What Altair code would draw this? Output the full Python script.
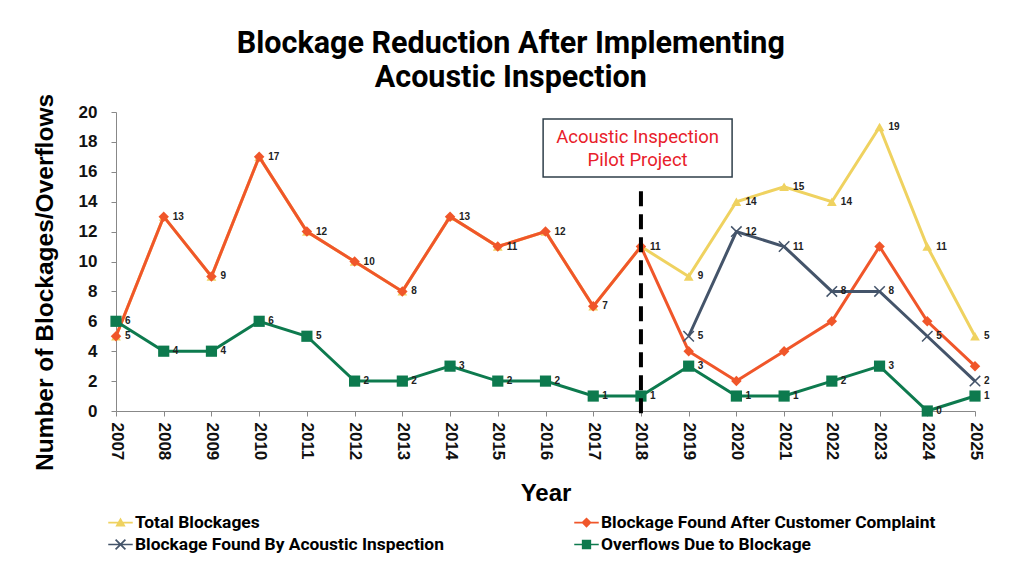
import altair as alt
import pandas as pd

# ---------------- data ----------------
years = list(range(2007, 2026))
total_blockages = [5, 13, 9, 17, 12, 10, 8, 13, 11, 12, 7, 11, 9, 14, 15, 14, 19, 11, 5]
customer_complaint = [5, 13, 9, 17, 12, 10, 8, 13, 11, 12, 7, 11, 4, 2, 4, 6, 11, 6, 3]
acoustic_found = [None] * 12 + [5, 12, 11, 8, 8, 5, 2]
overflows = [6, 4, 4, 6, 5, 2, 2, 3, 2, 2, 1, 1, 3, 1, 1, 2, 3, 0, 1]

series_names = [
    "Total Blockages",
    "Blockage Found After Customer Complaint",
    "Blockage Found By Acoustic Inspection",
    "Overflows Due to Blockage",
]
series_values = [total_blockages, customer_complaint, acoustic_found, overflows]
series_colors = ["#EFD260", "#F0562A", "#44546A", "#0D7A4E"]
series_labeled = [True, False, True, True]
# legend fills column by column: first column = Total, Acoustic
legend_order = [0, 2, 1, 3]

title_lines = ["Blockage Reduction After Implementing", "Acoustic Inspection"]
annotation_lines = ["Acoustic Inspection", "Pilot Project"]
pilot_year = 2018

rows = []
for name, vals in zip(series_names, series_values):
    for y, v in zip(years, vals):
        if v is not None:
            rows.append({"year": y, "series": name, "value": v})
df = pd.DataFrame(rows)

# annotation (data coordinates)
box_df = pd.DataFrame([{"year": 2015.95, "year2": 2019.91, "value": 19.53, "value2": 15.65}])
ann_df = pd.DataFrame([
    {"year": 2017.93, "value": 18.33, "t": annotation_lines[0]},
    {"year": 2017.93, "value": 16.79, "t": annotation_lines[1]},
])
rule_df = pd.DataFrame([{"year": pilot_year, "value": 14.7, "value2": -0.6}])

# ---------------- scales / axes ----------------
xscale = alt.Scale(domain=[2007, 2025], nice=False, zero=False)
yscale = alt.Scale(domain=[0, 20], nice=False)
color_scale = alt.Scale(domain=series_names, range=series_colors)

x_axis = alt.Axis(
    values=years, format="d", labelAngle=90, labelAlign="left", labelBaseline="middle",
    labelFont="Liberation Sans", labelFontWeight="bold", labelFontSize=17, labelColor="#111111",
    labelPadding=6, tickSize=5, tickColor="#888888", domainColor="#888888", grid=False,
    title="Year", titleFont="Liberation Sans", titleFontWeight="bold", titleFontSize=24,
    titleColor="#000000", titlePadding=22, labelOverlap=False,
)
y_axis = alt.Axis(
    values=list(range(0, 21, 2)), labelFont="Liberation Sans", labelFontWeight="bold",
    labelFontSize=17, labelColor="#111111", labelPadding=14, tickSize=5,
    tickColor="#888888", domainColor="#888888", grid=False, labelOverlap=False,
    title="Number of Blockages/Overflows", titleFont="Liberation Sans", titleFontWeight="bold",
    titleFontSize=24.5, titleColor="#000000", titlePadding=21, titleY=170,
)

X = alt.X("year:Q", scale=xscale, axis=x_axis)
Y = alt.Y("value:Q", scale=yscale, axis=y_axis)

# marker shapes for the plot
plot_shapes = ["triangle-up", "diamond", "M-1,-1L1,1M-1,1L1,-1", "square"]
plot_sizes = [95, 110, 110, 125]

# legend layer first (draws nothing, only drives the legend)
legend_paths = [
    "M-1,-0.07H1V0.07H-1Z M0,-0.42L0.42,0.32H-0.42Z",
    "M-1,-0.07H1V0.07H-1Z M0,-0.42L0.42,0L0,0.42L-0.42,0Z",
    "M-1,-0.07H1V0.07H-1Z M-0.35,-0.45L0.45,0.35L0.35,0.45L-0.45,-0.35Z M-0.35,0.45L-0.45,0.35L0.35,-0.45L0.45,-0.35Z",
    "M-1,-0.07H1V0.07H-1Z M-0.38,-0.38H0.38V0.38H-0.38Z",
]
leg_domain = [series_names[i] for i in legend_order]
leg_colors = [series_colors[i] for i in legend_order]
leg_paths = [legend_paths[i] for i in legend_order]
leg = alt.Legend(
    title=None, orient="none", legendX=-8, legendY=398, columns=2, columnPadding=130,
    rowPadding=1, symbolSize=600, symbolStrokeWidth=0, labelFont="Roboto",
    labelFontSize=17.4, labelFontWeight="bold", labelColor="#000000", labelOffset=2,
    padding=0, symbolOpacity=1, labelLimit=0,
)
legend_layer = alt.Chart(df).transform_filter("false").mark_point(filled=True, size=600, opacity=1).encode(
    x=X, y=Y,
    fill=alt.Fill("series:N", scale=alt.Scale(domain=leg_domain, range=leg_colors), legend=leg),
    shape=alt.Shape("series:N", scale=alt.Scale(domain=leg_domain, range=leg_paths), legend=leg),
)

layers = [legend_layer]
for i, name in enumerate(series_names):
    base = alt.Chart(df).transform_filter(alt.datum.series == name)
    col = alt.Color("series:N", scale=color_scale, legend=None)
    layers.append(base.mark_line(strokeWidth=3).encode(x=X, y=Y, color=col))
    if i == 2:
        pts = base.mark_point(shape=plot_shapes[i], filled=False, size=plot_sizes[i],
                              strokeWidth=1.5, opacity=1).encode(x=X, y=Y, color=col)
    else:
        pts = base.mark_point(shape=plot_shapes[i], filled=True, size=plot_sizes[i],
                              opacity=1).encode(x=X, y=Y, color=col)
    layers.append(pts)

for i, name in enumerate(series_names):
    if series_labeled[i]:
        layers.append(
            alt.Chart(df).transform_filter(alt.datum.series == name)
            .mark_text(align="left", baseline="middle", dx=9, fontSize=10,
                       fontWeight="bold", font="Liberation Sans", color="#222222")
            .encode(x=X, y=Y, text="value:Q")
        )

# dashed pilot line
rule = alt.Chart(rule_df).mark_rule(color="#000000", strokeWidth=4, strokeDash=[15, 8]).encode(
    x=X, y=Y, y2="value2:Q")

box = alt.Chart(box_df).mark_rect(fill="white", stroke="#2F3F4A", strokeWidth=1.5).encode(
    x=X, x2="year2:Q", y=Y, y2="value2:Q")
ann = alt.Chart(ann_df).mark_text(font="Roboto", fontSize=18.5, color="#E8202A",
                                  align="center", baseline="middle").encode(
    x=X, y=Y, text="t:N")

chart = alt.layer(*layers, rule, box, ann).properties(
    width=859, height=299,
    autosize=alt.AutoSizeParams(type="none"),
    padding={"left": 116, "top": 112, "right": 49, "bottom": 160},
    background="white",
    title=alt.TitleParams(
        text=title_lines, font="Roboto", fontSize=30.5, fontWeight="bold", color="#000000",
        anchor="middle", frame="bounds", offset=0, lineHeight=34,
    ),
).configure_view(stroke=None)

chart.save("out.html", embed_options={"renderer": "svg", "actions": False})
